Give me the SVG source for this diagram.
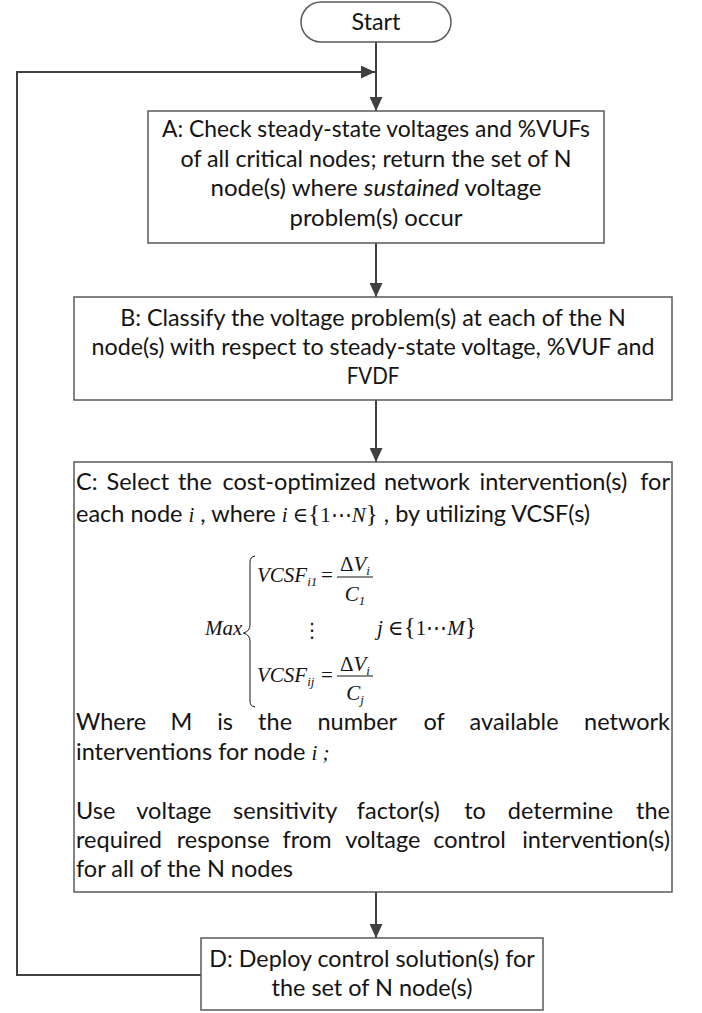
<svg xmlns="http://www.w3.org/2000/svg" width="702" height="1013" viewBox="0 0 702 1013">
  <style>
    .box { fill: #ffffff; stroke: #5a5a5a; stroke-width: 1.5; }
    .conn { fill: none; stroke: #404040; stroke-width: 2; }
    .t { font-family: Lato, "Open Sans", "Liberation Sans", sans-serif; font-size: 23.5px; fill: #141414; }
    .m { font-family: "Liberation Serif", "Times New Roman", "DejaVu Serif", serif; font-size: 21px; fill: #141414; }
    .it { font-style: italic; }
    .sub { font-style: italic; font-size: 13px; }
    .rule { stroke: #141414; stroke-width: 1; fill: none; }
    .end { text-anchor: end; }
  </style>
  <defs>
    <marker id="arrow" viewBox="0 0 14 13" refX="14" refY="6.5" markerWidth="14" markerHeight="13" markerUnits="userSpaceOnUse" orient="auto">
      <path d="M0,0 L14,6.5 L0,13 Z" fill="#404040"/>
    </marker>
  </defs>
  <rect width="702" height="1013" fill="#ffffff"/>

  <!-- connectors -->
  <g id="connectors">
    <path class="conn" d="M376,42 V111" marker-end="url(#arrow)"/>
    <path class="conn" d="M376,243 V297" marker-end="url(#arrow)"/>
    <path class="conn" d="M376,400 V462" marker-end="url(#arrow)"/>
    <path class="conn" d="M376,892 V938" marker-end="url(#arrow)"/>
    <path class="conn" d="M201,975 H17 V72 H375" marker-end="url(#arrow)"/>
  </g>

  <!-- start terminal -->
  <g id="start">
    <rect class="box" x="301" y="2" width="150" height="40" rx="20" ry="20"/>
    <text class="t" x="376" y="30" text-anchor="middle" textLength="48.9" lengthAdjust="spacingAndGlyphs">Start</text>
  </g>

  <!-- step A -->
  <g id="step-a">
    <rect class="box" x="148" y="111" width="456" height="132"/>
    <text class="t" x="376" y="137" text-anchor="middle" textLength="428" lengthAdjust="spacingAndGlyphs">A: Check steady-state voltages and %VUFs</text>
    <text class="t" x="376" y="166.5" text-anchor="middle" textLength="391" lengthAdjust="spacingAndGlyphs">of all critical nodes; return the set of N</text>
    <text class="t" x="376" y="196" text-anchor="middle" textLength="331" lengthAdjust="spacingAndGlyphs">node(s) where <tspan class="it">sustained</tspan> voltage</text>
    <text class="t" x="376" y="225.5" text-anchor="middle" textLength="173" lengthAdjust="spacingAndGlyphs">problem(s) occur</text>
  </g>

  <!-- step B -->
  <g id="step-b">
    <rect class="box" x="74" y="297" width="598" height="103"/>
    <text class="t" x="373" y="326" text-anchor="middle" textLength="505.7" lengthAdjust="spacingAndGlyphs">B: Classify the voltage problem(s) at each of the N</text>
    <text class="t" x="373" y="355" text-anchor="middle" textLength="562.9" lengthAdjust="spacingAndGlyphs">node(s) with respect to steady-state voltage, %VUF and</text>
    <text class="t" x="373" y="384" text-anchor="middle" textLength="52.5" lengthAdjust="spacingAndGlyphs">FVDF</text>
  </g>

  <!-- step C -->
  <g id="step-c">
    <rect class="box" x="74" y="462" width="598" height="430"/>
    <text class="t" y="490"><tspan x="76">C:</tspan><tspan x="106.5">Select</tspan><tspan x="177.9">the</tspan><tspan x="222.4">cost-optimized</tspan><tspan x="383.9">network</tspan><tspan x="479.5">intervention(s)</tspan><tspan class="end" x="670">for</tspan></text>
    <text class="t" x="76" y="522">each node <tspan class="m it" font-size="27">i</tspan> , where <tspan class="m" font-size="20"><tspan class="it">i</tspan> ∈<tspan font-size="25">{</tspan>1⋯<tspan class="it">N</tspan><tspan font-size="25">}</tspan></tspan> , by utilizing VCSF(s)</text>

    <!-- objective: Max over VCSF_ij -->
    <g id="formula">
      <text class="m it" x="205" y="635">Max</text>
      <path class="rule" stroke-width="1.2" d="M255,556 Q250,556.5 250,562 V625 Q250,631 243.5,633 Q250,635 250,641 V701 Q250,706.5 255,707"/>

      <text class="m" x="257" y="582"><tspan class="it">VCSF</tspan><tspan class="sub" dy="4">i1</tspan></text>
      <text class="m" x="321" y="582">=</text>
      <text class="m" x="355" y="571" text-anchor="middle">Δ<tspan class="it">V</tspan><tspan class="sub" dy="4">i</tspan></text>
      <line class="rule" x1="337" y1="577" x2="373" y2="577"/>
      <text class="m" x="355" y="601" text-anchor="middle"><tspan class="it">C</tspan><tspan class="sub" dy="4">1</tspan></text>

      <text x="312" y="637" text-anchor="middle" font-family="DejaVu Sans, sans-serif" font-size="20" fill="#141414">⋮</text>
      <text class="m" x="377" y="635"><tspan class="it">j</tspan> ∈<tspan font-size="25">{</tspan>1⋯<tspan class="it">M</tspan><tspan font-size="25">}</tspan></text>

      <text class="m" x="257" y="682"><tspan class="it">VCSF</tspan><tspan class="sub" dy="4">ij</tspan></text>
      <text class="m" x="321" y="682">=</text>
      <text class="m" x="355" y="671" text-anchor="middle">Δ<tspan class="it">V</tspan><tspan class="sub" dy="4">i</tspan></text>
      <line class="rule" x1="337" y1="676" x2="373" y2="676"/>
      <text class="m" x="355" y="700" text-anchor="middle"><tspan class="it">C</tspan><tspan class="sub" dy="4">j</tspan></text>
    </g>

    <text class="t" y="730"><tspan x="76">Where</tspan><tspan x="170.4">M</tspan><tspan x="217.2">is</tspan><tspan x="258.1">the</tspan><tspan x="317.5">number</tspan><tspan x="423.4">of</tspan><tspan x="469.6">available</tspan><tspan class="end" x="670">network</tspan></text>
    <text class="t" x="76" y="760">interventions for node <tspan class="m it" font-size="27">i ;</tspan></text>

    <text class="t" y="819"><tspan x="76">Use</tspan><tspan x="136.3">voltage</tspan><tspan x="233.1">sensitivity</tspan><tspan x="356.8">factor(s)</tspan><tspan x="464.2">to</tspan><tspan x="507.8">determine</tspan><tspan class="end" x="670">the</tspan></text>
    <text class="t" y="848"><tspan x="76">required</tspan><tspan x="176.7">response</tspan><tspan x="282.5">from</tspan><tspan x="345.2">voltage</tspan><tspan x="433.2">control</tspan><tspan class="end" x="670">intervention(s)</tspan></text>
    <text class="t" x="76" y="877">for all of the N nodes</text>
  </g>

  <!-- step D -->
  <g id="step-d">
    <rect class="box" x="201" y="938" width="342" height="72"/>
    <text class="t" x="372" y="967" text-anchor="middle" textLength="325.4" lengthAdjust="spacingAndGlyphs">D: Deploy control solution(s) for</text>
    <text class="t" x="372" y="996" text-anchor="middle" textLength="200.9" lengthAdjust="spacingAndGlyphs">the set of N node(s)</text>
  </g>
</svg>
